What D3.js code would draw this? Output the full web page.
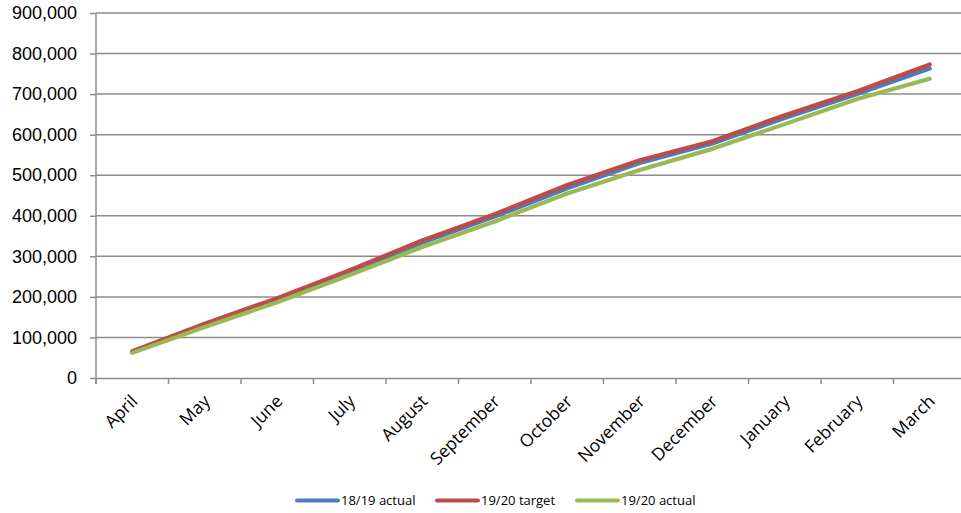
<!DOCTYPE html>
<html>
<head>
<meta charset="utf-8">
<script src="https://cdn.jsdelivr.net/npm/d3@7"></script>
<style>
  html, body { margin: 0; padding: 0; background: #fff; }
  svg { display: block; font-family: "Open Sans", "Liberation Sans", sans-serif; }
</style>
</head>
<body>
<svg id="chart" width="961" height="513"></svg>
<script>
// Cumulative monthly totals, financial year April to March
const months = ["April", "May", "June", "July", "August", "September",
                "October", "November", "December", "January", "February", "March"];
const actual1819 = [64000, 131000, 194000, 262000, 334000, 398000, 468000, 530000, 578000, 641000, 700000, 763000];
const target1920 = [66000, 134000, 197000, 266000, 339000, 404000, 476000, 537000, 584000, 648000, 707000, 773000];
const actual1920 = [62000, 126000, 187000, 254000, 323000, 386000, 455000, 513000, 565000, 626000, 688000, 738000];
const yTicks = [0, 100000, 200000, 300000, 400000, 500000, 600000, 700000, 800000, 900000];

const seriesNames = ["18/19 actual", "19/20 target", "19/20 actual"];
const seriesColors = ["#4a7ebb", "#be4b48", "#98b954"];
const seriesData = [actual1819, target1920, actual1920];

const svg = d3.select("#chart");
const plotLeft = 96, plotRight = 966, plotTop = 13, plotBottom = 378;

const x = d3.scaleBand().domain(months).range([plotLeft, plotRight]);
const y = d3.scaleLinear().domain([0, 900000]).range([plotBottom, plotTop]);
const fmt = d3.format(",");

// Horizontal gridlines
svg.append("g")
  .selectAll("line")
  .data(yTicks.filter(d => d > 0))
  .join("line")
  .attr("x1", plotLeft).attr("x2", plotRight)
  .attr("y1", d => y(d)).attr("y2", d => y(d))
  .attr("stroke", "#8c8c8c").attr("stroke-width", 1.5);

// Y axis
const yAxis = svg.append("g")
  .attr("transform", `translate(${plotLeft},0)`)
  .call(d3.axisLeft(y).tickValues(yTicks).tickFormat(fmt).tickSize(6).tickPadding(13));
yAxis.select(".domain").attr("stroke", "#8c8c8c").attr("stroke-width", 1.5)
  .attr("d", `M0,${plotTop}V${plotBottom + 6}`);
yAxis.selectAll(".tick line").attr("stroke", "#8c8c8c").attr("stroke-width", 1.5);
yAxis.selectAll(".tick text").attr("fill", "#000").style("font-size", "18px");

// X axis
const xAxis = svg.append("g")
  .attr("transform", `translate(0,${plotBottom})`)
  .call(d3.axisBottom(x).tickSize(0).tickFormat(""));
xAxis.select(".domain").attr("stroke", "#8c8c8c").attr("stroke-width", 1.5);
xAxis.selectAll(".tick").remove();

// Category boundary ticks
svg.append("g")
  .selectAll("line")
  .data(months)
  .join("line")
  .attr("x1", d => x(d)).attr("x2", d => x(d))
  .attr("y1", plotBottom).attr("y2", plotBottom + 6)
  .attr("stroke", "#8c8c8c").attr("stroke-width", 1.5);

// Rotated month labels
svg.append("g")
  .selectAll("text")
  .data(months)
  .join("text")
  .attr("transform", d => `translate(${x(d) + x.bandwidth() / 2 + 2},${plotBottom + 20}) rotate(-45)`)
  .attr("text-anchor", "end")
  .attr("dy", "0.35em")
  .style("font-size", "17.5px")
  .attr("fill", "#000")
  .text(d => d);

// Series lines
const line = d3.line()
  .x((d, i) => x(months[i]) + x.bandwidth() / 2)
  .y(d => y(d));

svg.append("g")
  .selectAll("path")
  .data(seriesData)
  .join("path")
  .attr("d", d => line(d))
  .attr("fill", "none")
  .attr("stroke", (d, i) => seriesColors[i])
  .attr("stroke-width", 4.2)
  .attr("stroke-linejoin", "round")
  .attr("stroke-linecap", "round");

// Legend
const legendX = [297, 437, 577];
const legendY = 500.5;
const legend = svg.append("g")
  .selectAll("g")
  .data(seriesNames)
  .join("g")
  .attr("transform", (d, i) => `translate(${legendX[i]},${legendY})`);
legend.append("line")
  .attr("x1", 0).attr("x2", 41)
  .attr("stroke", (d, i) => seriesColors[i])
  .attr("stroke-width", 4)
  .attr("stroke-linecap", "round");
legend.append("text")
  .attr("x", 44)
  .attr("dy", "0.35em")
  .style("font-size", "13px")
  .attr("fill", "#000")
  .text(d => d);
</script>
</body>
</html>
